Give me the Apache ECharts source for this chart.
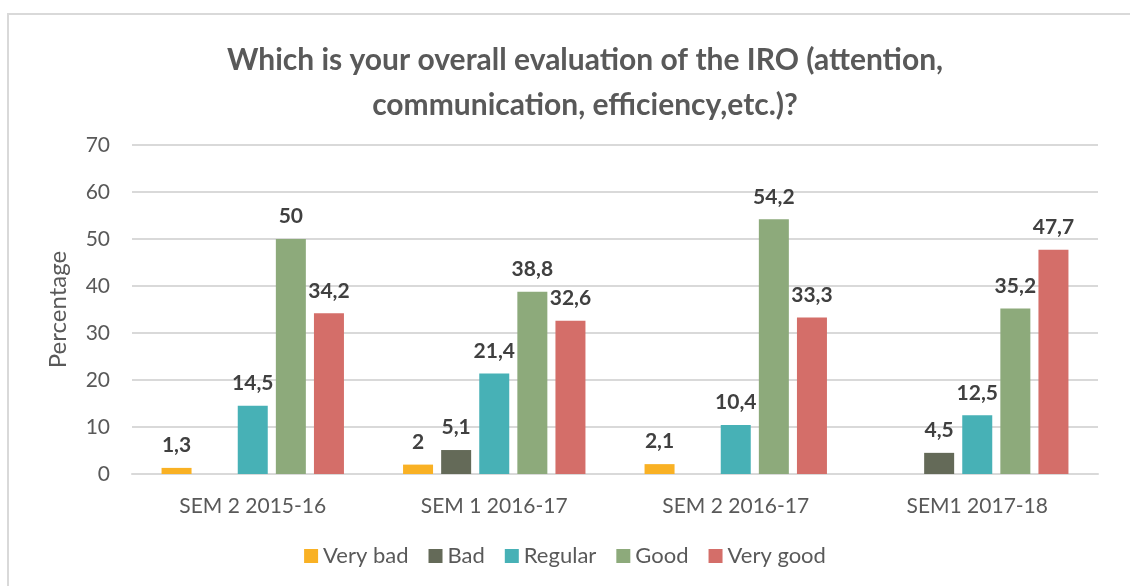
<!DOCTYPE html>
<html>
<head>
<meta charset="utf-8">
<script src="https://cdn.jsdelivr.net/npm/echarts@6/dist/echarts.min.js"></script>
<style>
  html, body { margin: 0; padding: 0; background: #fff; }
  .frame {
    position: absolute; left: 7px; top: 13px; width: 1140px; height: 600px;
    border-left: 2px solid #d9d9d9; border-top: 2px solid #d9d9d9;
  }
  #chart { position: absolute; left: 0; top: 0; width: 1130px; height: 586px; }
</style>
</head>
<body>
<div class="frame"></div>
<div id="chart"></div>
<script>
const categories = ['SEM 2 2015-16', 'SEM 1 2016-17', 'SEM 2 2016-17', 'SEM1 2017-18'];
const veryBad = [1.3, 2, 2.1, null];
const bad = [null, 5.1, null, 4.5];
const regular = [14.5, 21.4, 10.4, 12.5];
const good = [50, 38.8, 54.2, 35.2];
const veryGood = [34.2, 32.6, 33.3, 47.7];

const font = 'Lato, "Open Sans", sans-serif';
const chart = echarts.init(document.getElementById('chart'));

function makeSeries(name, data, color) {
    return {
        name,
        type: 'bar',
        data,
        barWidth: 30,
        barGap: '27%',
        itemStyle: { color },
        label: {
            show: true,
            position: 'top',
            distance: 12,
            fontFamily: font,
            fontWeight: 'bold',
            fontSize: 21,
            color: '#404040',
            formatter: p => String(p.value).replace('.', ','),
        },
    };
}

chart.setOption({
    animation: false,
    title: {
        text: 'Which is your overall evaluation of the IRO (attention,\ncommunication, efficiency,etc.)?',
        left: 580,
        top: 33,
        textAlign: 'center',
        textStyle: {
            fontFamily: font,
            fontWeight: 'bold',
            fontSize: 30,
            lineHeight: 45,
            color: '#595959',
        },
    },
    legend: {
        bottom: 14,
        left: 'center',
        itemWidth: 14,
        itemHeight: 14,
        itemGap: 20,
        icon: 'rect',
        textStyle: { fontFamily: font, fontSize: 22, color: '#595959' },
    },
    grid: { left: 132, right: 32, top: 145, bottom: 112, containLabel: false },
    xAxis: {
        type: 'category',
        data: categories,
        axisTick: { show: false },
        axisLine: { lineStyle: { color: '#d9d9d9', width: 2 } },
        axisLabel: { fontFamily: font, fontSize: 21, color: '#595959', margin: 22 },
    },
    yAxis: {
        type: 'value',
        min: 0,
        max: 70,
        interval: 10,
        name: 'Percentage',
        nameLocation: 'middle',
        nameGap: 62,
        nameTextStyle: { fontFamily: font, fontSize: 24, color: '#595959' },
        axisLabel: { fontFamily: font, fontSize: 21, color: '#595959', margin: 22 },
        splitLine: { lineStyle: { color: '#d9d9d9', width: 2 } },
    },
    series: [
        makeSeries('Very bad', veryBad, '#F9B124'),
        makeSeries('Bad', bad, '#646A58'),
        makeSeries('Regular', regular, '#47B1B6'),
        makeSeries('Good', good, '#8DAA7B'),
        makeSeries('Very good', veryGood, '#D46E69'),
    ],
});
</script>
</body>
</html>
